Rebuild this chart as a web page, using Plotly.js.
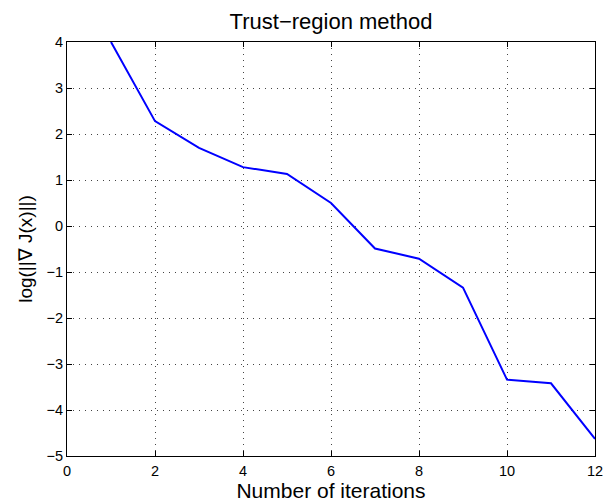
<!DOCTYPE html>
<html>
<head>
<meta charset="utf-8">
<script src="https://cdn.plot.ly/plotly-3.0.1.min.js"></script>
<style>body{margin:0;padding:0;background:#fff;}#chart{width:605px;height:502px;}</style>
</head>
<body>
<div id="chart"></div>
<script>
const iterations = [1, 2, 3, 4, 5, 6, 7, 8, 9, 10, 11, 12];
const logGradNorm = [4.0, 2.28, 1.7, 1.28, 1.13, 0.5, -0.49, -0.71, -1.34, -3.34, -3.42, -4.63];
const xTicks = [0, 2, 4, 6, 8, 10, 12];
const yTicks = [4, 3, 2, 1, 0, -1, -2, -3, -4, -5];

const FONT = 'Liberation Sans, Arial, Helvetica, sans-serif';
const axisCommon = {
  showline: true, linecolor: '#000', linewidth: 1, mirror: 'ticks',
  ticks: 'inside', ticklen: 5, tickcolor: '#000', tickwidth: 1,
  showgrid: true, gridcolor: '#444', griddash: '1px,5px', gridwidth: 1,
  zeroline: false,
  tickfont: {family: FONT, size: 14.5, color: '#000'}
};

Plotly.newPlot('chart', [{
  x: iterations, y: logGradNorm, type: 'scatter', mode: 'lines',
  line: {color: '#0000ff', width: 2}
}], {
  width: 605, height: 502,
  margin: {l: 67, r: 10, t: 42, b: 46},
  paper_bgcolor: '#fff', plot_bgcolor: '#fff',
  showlegend: false,
  title: {text: 'Trust\u2212region method', font: {family: FONT, size: 22, color: '#000'}, x: 331 / 605, xref: 'container', xanchor: 'center', yref: 'container', y: 1 - 21 / 502, yanchor: 'middle'},
  xaxis: Object.assign({}, axisCommon, {
    range: [0, 12], tickvals: xTicks, ticktext: xTicks.map(String),
    ticklabelstandoff: 2,
    title: {text: 'Number of iterations', font: {family: FONT, size: 21, color: '#000'}, standoff: 0}
  }),
  yaxis: Object.assign({}, axisCommon, {
    range: [-5, 4], tickvals: yTicks, ticktext: yTicks.map(v => v < 0 ? '\u2212' + Math.abs(v) : String(v)),
    ticklabelstandoff: 0,
    title: {text: 'log(||\u2207 J(x)||)', font: {family: FONT, size: 19, color: '#000'}, standoff: 8}
  })
}, {displayModeBar: false, staticPlot: true});
</script>
</body>
</html>
